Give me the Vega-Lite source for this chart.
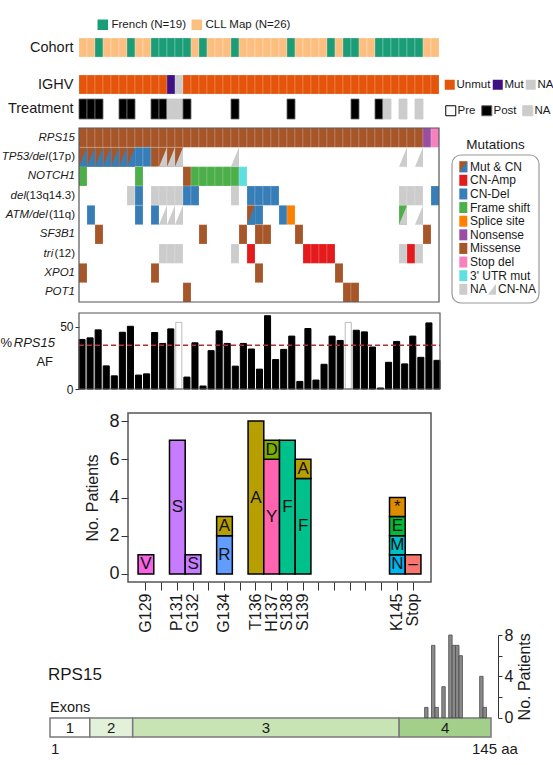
{
  "$schema": "https://vega.github.io/schema/vega-lite/v6.json",
  "width": 553,
  "height": 765,
  "autosize": "none",
  "padding": 0,
  "background": "white",
  "config": {
    "view": {"stroke": null},
    "font": "Liberation Sans",
    "text": {"font": "Liberation Sans"},
    "axis": {"labelFont": "Liberation Sans", "titleFont": "Liberation Sans", "labelColor": "#1a1a1a", "titleColor": "#1a1a1a", "tickColor": "#333333", "domainColor": "#333333", "titleFontWeight": "normal"},
    "legend": {"labelFont": "Liberation Sans", "labelColor": "#1a1a1a", "gridAlign": "none"}
  },
  "datasets": {
    "samples": [
      {"s":1,"cohort":"CLL Map","ighv":"Unmut","tx":"Post","af":39.9},
      {"s":2,"cohort":"CLL Map","ighv":"Unmut","tx":"Post","af":41.2},
      {"s":3,"cohort":"French","ighv":"Unmut","tx":"Post","af":47.6},
      {"s":4,"cohort":"CLL Map","ighv":"Unmut","tx":"Pre","af":18.6},
      {"s":5,"cohort":"CLL Map","ighv":"Unmut","tx":"Pre","af":10.6},
      {"s":6,"cohort":"CLL Map","ighv":"Unmut","tx":"Post","af":45.7},
      {"s":7,"cohort":"French","ighv":"Unmut","tx":"Post","af":50.5},
      {"s":8,"cohort":"CLL Map","ighv":"Unmut","tx":"Pre","af":11.2},
      {"s":9,"cohort":"CLL Map","ighv":"Unmut","tx":"Pre","af":12.2},
      {"s":10,"cohort":"French","ighv":"Unmut","tx":"Post","af":45.5},
      {"s":11,"cohort":"French","ighv":"Unmut","tx":"Post","af":36.7},
      {"s":12,"cohort":"French","ighv":"Mut","tx":"NA","af":48.4},
      {"s":13,"cohort":"French","ighv":"NA","tx":"NA","af":53.7,"afna":true},
      {"s":14,"cohort":"French","ighv":"Unmut","tx":"Post","af":9.6},
      {"s":15,"cohort":"CLL Map","ighv":"Unmut","tx":"Pre","af":37.2},
      {"s":16,"cohort":"French","ighv":"Unmut","tx":"Pre","af":2.4},
      {"s":17,"cohort":"CLL Map","ighv":"Unmut","tx":"Pre","af":30.9},
      {"s":18,"cohort":"CLL Map","ighv":"Unmut","tx":"Pre","af":46.8},
      {"s":19,"cohort":"CLL Map","ighv":"Unmut","tx":"Pre","af":36.7},
      {"s":20,"cohort":"French","ighv":"Unmut","tx":"Post","af":18.4},
      {"s":21,"cohort":"CLL Map","ighv":"Unmut","tx":"Pre","af":36.7},
      {"s":22,"cohort":"CLL Map","ighv":"Unmut","tx":"Pre","af":32.2},
      {"s":23,"cohort":"CLL Map","ighv":"Unmut","tx":"Pre","af":16.0},
      {"s":24,"cohort":"CLL Map","ighv":"Unmut","tx":"Pre","af":59.0},
      {"s":25,"cohort":"CLL Map","ighv":"Unmut","tx":"Pre","af":23.7},
      {"s":26,"cohort":"CLL Map","ighv":"Unmut","tx":"Pre","af":31.9},
      {"s":27,"cohort":"French","ighv":"Unmut","tx":"Post","af":42.6},
      {"s":28,"cohort":"CLL Map","ighv":"Unmut","tx":"Pre","af":6.1},
      {"s":29,"cohort":"CLL Map","ighv":"Unmut","tx":"Pre","af":48.7},
      {"s":30,"cohort":"CLL Map","ighv":"Unmut","tx":"Pre","af":7.2},
      {"s":31,"cohort":"CLL Map","ighv":"Unmut","tx":"Pre","af":19.9},
      {"s":32,"cohort":"French","ighv":"Unmut","tx":"Pre","af":42.6},
      {"s":33,"cohort":"CLL Map","ighv":"Unmut","tx":"Pre","af":39.1},
      {"s":34,"cohort":"French","ighv":"Unmut","tx":"Pre","af":53.7,"afna":true},
      {"s":35,"cohort":"French","ighv":"Unmut","tx":"Post","af":47.3},
      {"s":36,"cohort":"CLL Map","ighv":"Unmut","tx":"Pre","af":46.0},
      {"s":37,"cohort":"CLL Map","ighv":"Unmut","tx":"Pre","af":33.8},
      {"s":38,"cohort":"French","ighv":"Unmut","tx":"Post","af":0.8},
      {"s":39,"cohort":"French","ighv":"Unmut","tx":"NA","af":21.5},
      {"s":40,"cohort":"French","ighv":"Unmut","tx":"Pre","af":38.3},
      {"s":41,"cohort":"French","ighv":"Unmut","tx":"NA","af":20.2},
      {"s":42,"cohort":"French","ighv":"Unmut","tx":"Pre","af":42.6},
      {"s":43,"cohort":"French","ighv":"Unmut","tx":"NA","af":25.5},
      {"s":44,"cohort":"CLL Map","ighv":"Unmut","tx":"Pre","af":53.2},
      {"s":45,"cohort":"CLL Map","ighv":"Unmut","tx":"Pre","af":23.1}
    ],
    "cells": [
      {"s":1,"g":"RPS15","t":"Missense"},{"s":2,"g":"RPS15","t":"Missense"},{"s":3,"g":"RPS15","t":"Missense"},{"s":4,"g":"RPS15","t":"Missense"},{"s":5,"g":"RPS15","t":"Missense"},
      {"s":6,"g":"RPS15","t":"Missense"},{"s":7,"g":"RPS15","t":"Missense"},{"s":8,"g":"RPS15","t":"Missense"},{"s":9,"g":"RPS15","t":"Missense"},{"s":10,"g":"RPS15","t":"Missense"},
      {"s":11,"g":"RPS15","t":"Missense"},{"s":12,"g":"RPS15","t":"Missense"},{"s":13,"g":"RPS15","t":"Missense"},{"s":14,"g":"RPS15","t":"Missense"},{"s":15,"g":"RPS15","t":"Missense"},
      {"s":16,"g":"RPS15","t":"Missense"},{"s":17,"g":"RPS15","t":"Missense"},{"s":18,"g":"RPS15","t":"Missense"},{"s":19,"g":"RPS15","t":"Missense"},{"s":20,"g":"RPS15","t":"Missense"},
      {"s":21,"g":"RPS15","t":"Missense"},{"s":22,"g":"RPS15","t":"Missense"},{"s":23,"g":"RPS15","t":"Missense"},{"s":24,"g":"RPS15","t":"Missense"},{"s":25,"g":"RPS15","t":"Missense"},
      {"s":26,"g":"RPS15","t":"Missense"},{"s":27,"g":"RPS15","t":"Missense"},{"s":28,"g":"RPS15","t":"Missense"},{"s":29,"g":"RPS15","t":"Missense"},{"s":30,"g":"RPS15","t":"Missense"},
      {"s":31,"g":"RPS15","t":"Missense"},{"s":32,"g":"RPS15","t":"Missense"},{"s":33,"g":"RPS15","t":"Missense"},{"s":34,"g":"RPS15","t":"Missense"},{"s":35,"g":"RPS15","t":"Missense"},
      {"s":36,"g":"RPS15","t":"Missense"},{"s":37,"g":"RPS15","t":"Missense"},{"s":38,"g":"RPS15","t":"Missense"},{"s":39,"g":"RPS15","t":"Missense"},{"s":40,"g":"RPS15","t":"Missense"},
      {"s":41,"g":"RPS15","t":"Missense"},{"s":42,"g":"RPS15","t":"Missense"},{"s":43,"g":"RPS15","t":"Missense"},{"s":44,"g":"RPS15","t":"Nonsense"},{"s":45,"g":"RPS15","t":"Stop del"},
      {"s":1,"g":"TP53","t":"Missense","c":"CN-Del"},{"s":2,"g":"TP53","t":"Missense","c":"CN-Del"},{"s":3,"g":"TP53","t":"Missense","c":"CN-Del"},
      {"s":4,"g":"TP53","t":"Missense","c":"CN-Del"},{"s":5,"g":"TP53","t":"Missense","c":"CN-Del"},{"s":6,"g":"TP53","t":"Missense","c":"CN-Del"},
      {"s":7,"g":"TP53","t":"Missense","c":"CN-Del"},{"s":8,"g":"TP53","t":"CN-Del"},{"s":9,"g":"TP53","t":"CN-Del"},{"s":10,"g":"TP53","t":"Missense"},
      {"s":11,"g":"TP53","t":"Missense","c":"CN-NA"},{"s":12,"g":"TP53","t":"Missense","c":"CN-NA"},{"s":13,"g":"TP53","t":"Missense","c":"CN-NA"},
      {"s":20,"g":"TP53","c":"CN-NA"},{"s":41,"g":"TP53","c":"CN-NA"},{"s":43,"g":"TP53","c":"CN-NA"},
      {"s":1,"g":"NOTCH1","t":"Frame shift"},{"s":8,"g":"NOTCH1","t":"Frame shift"},{"s":14,"g":"NOTCH1","t":"Missense"},
      {"s":15,"g":"NOTCH1","t":"Frame shift"},{"s":16,"g":"NOTCH1","t":"Frame shift"},{"s":17,"g":"NOTCH1","t":"Frame shift"},
      {"s":18,"g":"NOTCH1","t":"Frame shift"},{"s":19,"g":"NOTCH1","t":"Frame shift"},{"s":20,"g":"NOTCH1","t":"Frame shift"},
      {"s":21,"g":"NOTCH1","t":"3' UTR mut"},
      {"s":7,"g":"del13q","t":"NA"},{"s":8,"g":"del13q","t":"CN-Del"},{"s":10,"g":"del13q","t":"NA"},{"s":11,"g":"del13q","t":"NA"},
      {"s":12,"g":"del13q","t":"NA"},{"s":13,"g":"del13q","t":"NA"},{"s":14,"g":"del13q","t":"CN-Del"},{"s":15,"g":"del13q","t":"CN-Del"},
      {"s":20,"g":"del13q","t":"NA"},{"s":22,"g":"del13q","t":"CN-Del"},{"s":23,"g":"del13q","t":"CN-Del"},{"s":24,"g":"del13q","t":"CN-Del"},
      {"s":25,"g":"del13q","t":"CN-Del"},{"s":41,"g":"del13q","t":"NA"},{"s":42,"g":"del13q","t":"NA"},{"s":43,"g":"del13q","t":"NA"},
      {"s":45,"g":"del13q","t":"CN-Del"},
      {"s":2,"g":"ATM","t":"CN-Del"},{"s":8,"g":"ATM","t":"CN-Del"},{"s":10,"g":"ATM","t":"CN-Del"},
      {"s":11,"g":"ATM","c":"CN-NA"},{"s":12,"g":"ATM","c":"CN-NA"},{"s":13,"g":"ATM","c":"CN-NA"},
      {"s":22,"g":"ATM","t":"Missense","c":"CN-Del"},{"s":23,"g":"ATM","t":"CN-Del"},{"s":26,"g":"ATM","t":"CN-Del"},
      {"s":27,"g":"ATM","t":"Splice site"},{"s":41,"g":"ATM","t":"Frame shift","c":"CN-NA"},{"s":43,"g":"ATM","c":"CN-NA"},
      {"s":3,"g":"SF3B1","t":"Missense"},{"s":16,"g":"SF3B1","t":"Missense"},{"s":21,"g":"SF3B1","t":"Missense"},{"s":23,"g":"SF3B1","t":"Missense"},
      {"s":24,"g":"SF3B1","t":"Missense"},{"s":28,"g":"SF3B1","t":"Missense"},{"s":44,"g":"SF3B1","t":"Missense"},
      {"s":11,"g":"tri12","t":"NA"},{"s":12,"g":"tri12","t":"NA"},{"s":13,"g":"tri12","t":"NA"},{"s":20,"g":"tri12","t":"NA"},
      {"s":22,"g":"tri12","t":"CN-Amp"},{"s":29,"g":"tri12","t":"CN-Amp"},{"s":30,"g":"tri12","t":"CN-Amp"},{"s":31,"g":"tri12","t":"CN-Amp"},
      {"s":32,"g":"tri12","t":"CN-Amp"},{"s":41,"g":"tri12","t":"NA"},{"s":42,"g":"tri12","t":"CN-Amp"},{"s":43,"g":"tri12","t":"NA"},
      {"s":1,"g":"XPO1","t":"Missense"},{"s":10,"g":"XPO1","t":"Missense"},{"s":23,"g":"XPO1","t":"Missense"},{"s":33,"g":"XPO1","t":"Missense"},
      {"s":14,"g":"POT1","t":"Missense"},{"s":34,"g":"POT1","t":"Missense"},{"s":35,"g":"POT1","t":"Missense"}
    ],
    "sites": [
      {"p":"129","aa":"V","lo":0,"hi":1},
      {"p":"131","aa":"S","lo":0,"hi":7},
      {"p":"132","aa":"S","lo":0,"hi":1},
      {"p":"134","aa":"R","lo":0,"hi":2},
      {"p":"134","aa":"A","lo":2,"hi":3},
      {"p":"136","aa":"A","lo":0,"hi":8},
      {"p":"137","aa":"Y","lo":0,"hi":6},
      {"p":"137","aa":"D","lo":6,"hi":7},
      {"p":"138","aa":"F","lo":0,"hi":7},
      {"p":"139","aa":"F","lo":0,"hi":5},
      {"p":"139","aa":"A","lo":5,"hi":6},
      {"p":"145","aa":"N","lo":0,"hi":1},
      {"p":"145","aa":"M","lo":1,"hi":2},
      {"p":"145","aa":"E","lo":2,"hi":3},
      {"p":"145","aa":"*","lo":3,"hi":4},
      {"p":"146","aa":"–","lo":0,"hi":1}
    ],
    "exons": [
      {"exon":"1","start":1,"end":14},
      {"exon":"2","start":14,"end":28},
      {"exon":"3","start":28,"end":115},
      {"exon":"4","start":115,"end":145}
    ]
  },
  "layer": [
    {
      "data": {"name": "samples"},
      "mark": {"type": "rect", "stroke": "#ffffff", "strokeWidth": 0.6, "strokeOpacity": 0.4},
      "encoding": {
        "x": {"field": "s", "type": "ordinal", "scale": {"range": [79, 439], "paddingInner": 0, "paddingOuter": 0}, "axis": null},
        "y": {"datum": "Cohort", "type": "nominal", "scale": {"range": [38, 57], "paddingInner": 0, "paddingOuter": 0},
              "axis": {"orient": "left", "offset": -79, "title": null, "domain": false, "ticks": false, "labelPadding": 6, "labelFontSize": 14.5}},
        "color": {"field": "cohort", "type": "nominal",
                  "scale": {"domain": ["French", "CLL Map"], "range": ["#1b9e77", "#fdbf80"]},
                  "legend": {"orient": "none", "legendX": 97, "legendY": 19, "direction": "horizontal", "title": null, "symbolType": "square", "symbolSize": 110, "symbolStrokeWidth": 0, "labelFontSize": 11.5, "labelExpr": "datum.label == 'French' ? 'French (N=19)' : 'CLL Map (N=26)'", "columnPadding": 5, "labelOffset": 3, "padding": 0}}
      }
    },
    {
      "data": {"name": "samples"},
      "mark": {"type": "rect", "stroke": "#ffffff", "strokeWidth": 0.6, "strokeOpacity": 0.3},
      "encoding": {
        "x": {"field": "s", "type": "ordinal", "scale": {"range": [79, 439], "paddingInner": 0, "paddingOuter": 0}, "axis": null},
        "y": {"datum": "IGHV", "type": "nominal", "scale": {"range": [75, 94], "paddingInner": 0, "paddingOuter": 0},
              "axis": {"orient": "left", "offset": -79, "title": null, "domain": false, "ticks": false, "labelPadding": 6, "labelFontSize": 14.5}},
        "color": {"field": "ighv", "type": "nominal",
                  "scale": {"domain": ["Unmut", "Mut", "NA"], "range": ["#e4540a", "#3f1187", "#cccccc"]},
                  "legend": {"orient": "none", "legendX": 444, "legendY": 79, "direction": "horizontal", "title": null, "symbolType": "square", "symbolSize": 100, "symbolStrokeWidth": 0, "labelFontSize": 11.5, "columnPadding": 1, "labelOffset": 1, "padding": 0}}
      }
    },
    {
      "data": {"name": "samples"},
      "transform": [{"filter": "datum.tx != 'Pre'"}],
      "mark": {"type": "rect", "strokeWidth": 0.8},
      "encoding": {
        "x": {"field": "s", "type": "ordinal", "scale": {"domain": [1,2,3,4,5,6,7,8,9,10,11,12,13,14,15,16,17,18,19,20,21,22,23,24,25,26,27,28,29,30,31,32,33,34,35,36,37,38,39,40,41,42,43,44,45], "range": [79, 439], "paddingInner": 0, "paddingOuter": 0}, "axis": null},
        "y": {"datum": "Treatment", "type": "nominal", "scale": {"range": [99, 119], "paddingInner": 0, "paddingOuter": 0},
              "axis": {"orient": "left", "offset": -79, "title": null, "domain": false, "ticks": false, "labelPadding": 6, "labelFontSize": 14.5}},
        "color": {"field": "tx", "type": "nominal",
                  "scale": {"domain": ["Pre", "Post", "NA"], "range": ["#ffffff", "#000000", "#cccccc"]},
                  "legend": {"orient": "none", "legendX": 445, "legendY": 105, "direction": "horizontal", "title": null, "symbolType": "square", "symbolSize": 100, "symbolStrokeWidth": 1, "labelFontSize": 11.5, "columnPadding": 3, "labelOffset": 1, "padding": 0}},
        "stroke": {"field": "tx", "type": "nominal",
                  "scale": {"domain": ["Pre", "Post", "NA"], "range": ["#000000", "#666666", "#cccccc"]},
                  "legend": {"orient": "none", "legendX": 445, "legendY": 105, "direction": "horizontal", "title": null, "symbolType": "square", "symbolSize": 100, "symbolStrokeWidth": 1, "labelFontSize": 11.5, "columnPadding": 3, "labelOffset": 1, "padding": 0}}
      }
    },
    {
      "data": {"name": "cells"},
      "layer": [
        {
          "transform": [{"filter": "datum.t"}],
          "mark": {"type": "rect", "stroke": "#ffffff", "strokeWidth": 0.5, "strokeOpacity": 0.35},
          "encoding": {
            "x": {"field": "s", "type": "ordinal", "scale": {"domain": [1,2,3,4,5,6,7,8,9,10,11,12,13,14,15,16,17,18,19,20,21,22,23,24,25,26,27,28,29,30,31,32,33,34,35,36,37,38,39,40,41,42,43,44,45], "range": [79, 439], "paddingInner": 0, "paddingOuter": 0}, "axis": null},
            "y": {"field": "g", "type": "nominal", "scale": {"domain": ["RPS15", "TP53", "NOTCH1", "del13q", "ATM", "SF3B1", "tri12", "XPO1", "POT1"], "range": [128, 302], "paddingInner": 0, "paddingOuter": 0}, "axis": null},
            "color": {"field": "t", "type": "nominal",
                      "scale": {"domain": ["Missense", "CN-Amp", "CN-Del", "Frame shift", "Splice site", "Nonsense", "Stop del", "3' UTR mut", "NA", "CN-NA"],
                                "range": ["#a65628", "#e41a1c", "#377eb8", "#4daf4a", "#ff7f00", "#984ea3", "#f781bf", "#5fe0e0", "#cccccc", "#cccccc"]},
                      "legend": null}
          }
        },
        {
          "transform": [{"filter": "datum.c"}],
          "mark": {"type": "point", "shape": "M0.414,-1L0.414,1L-0.414,1Z", "size": 374, "filled": true, "opacity": 1, "strokeWidth": 0},
          "encoding": {
            "x": {"field": "s", "type": "ordinal"},
            "y": {"field": "g", "type": "nominal"},
            "color": {"field": "c", "type": "nominal"}
          }
        },
        {
          "data": {"values": [
            {"g":"RPS15","it":"RPS15","rm":""},{"g":"TP53","it":"TP53/del","rm":"(17p)"},{"g":"NOTCH1","it":"NOTCH1","rm":""},
            {"g":"del13q","it":"del","rm":"(13q14.3)"},{"g":"ATM","it":"ATM/del","rm":"(11q)"},{"g":"SF3B1","it":"SF3B1","rm":""},
            {"g":"tri12","it":"tri","rm":"(12)"},{"g":"XPO1","it":"XPO1","rm":""},{"g":"POT1","it":"POT1","rm":""}
          ]},
          "transform": [{"calculate": "length(datum.rm) * 5.45", "as": "w"}],
          "layer": [
            {
              "mark": {"type": "text", "align": "right", "baseline": "middle", "fontSize": 11.5, "fontStyle": "italic", "color": "#1a1a1a", "dx": {"expr": "-4 - datum.w"}},
              "encoding": {"x": {"datum": 1, "type": "ordinal", "bandPosition": 0}, "y": {"field": "g", "type": "nominal"}, "text": {"field": "it"}}
            },
            {
              "transform": [{"filter": "datum.rm != ''"}],
              "mark": {"type": "text", "align": "right", "baseline": "middle", "fontSize": 11.5, "color": "#1a1a1a", "dx": -4},
              "encoding": {"x": {"datum": 1, "type": "ordinal", "bandPosition": 0}, "y": {"field": "g", "type": "nominal"}, "text": {"field": "rm"}}
            }
          ]
        }
      ]
    },
    {
      "data": {"values": [{}]},
      "mark": {"type": "rect", "fillOpacity": 0, "stroke": "#555555", "strokeWidth": 1.2},
      "encoding": {
        "x": {"datum": 0, "type": "quantitative", "scale": {"domain": [0, 1], "range": [79, 439], "nice": false, "zero": false}, "axis": null},
        "x2": {"datum": 1},
        "y": {"datum": 0, "type": "quantitative", "scale": {"domain": [0, 1], "range": [302, 128], "nice": false, "zero": false}, "axis": null},
        "y2": {"datum": 1}
      }
    },
    {
      "data": {"values": [{}]},
      "layer": [
        {
          "mark": {"type": "rect", "fill": "#ffffff", "stroke": "#999999", "strokeWidth": 1.2, "cornerRadius": 9},
          "encoding": {
            "x": {"datum": 0, "type": "quantitative", "scale": {"domain": [0, 1], "range": [452, 539], "nice": false, "zero": false}, "axis": null},
            "x2": {"datum": 1},
            "y": {"datum": 0, "type": "quantitative", "scale": {"domain": [0, 1], "range": [303, 155], "nice": false, "zero": false}, "axis": null},
            "y2": {"datum": 1}
          }
        },
        {
          "mark": {"type": "text", "text": "Mutations", "fontSize": 13.5, "color": "#1a1a1a", "dy": -10, "baseline": "middle"},
          "encoding": {"x": {"datum": 0.5}, "y": {"datum": 1}}
        }
      ]
    },
    {
      "data": {"values": [
        {"item":"Mut & CN"},{"item":"CN-Amp"},{"item":"CN-Del"},{"item":"Frame shift"},{"item":"Splice site"},
        {"item":"Nonsense"},{"item":"Missense"},{"item":"Stop del"},{"item":"3' UTR mut"},{"item":"NA"}
      ]},
      "encoding": {
        "y": {"field": "item", "type": "nominal", "scale": {"type": "point", "domain": ["Mut & CN", "CN-Amp", "CN-Del", "Frame shift", "Splice site", "Nonsense", "Missense", "Stop del", "3' UTR mut", "NA"], "range": [166.7, 289.3], "padding": 0}, "axis": null}
      },
      "layer": [
        {
          "mark": {"type": "point", "shape": "M-0.727,-1L0.727,-1L0.727,1L-0.727,1Z", "size": 121, "filled": true, "opacity": 1, "strokeWidth": 0},
          "encoding": {
            "x": {"datum": 0.13, "type": "quantitative", "scale": {"domain": [0, 1], "range": [452, 539], "nice": false, "zero": false}, "axis": null},
            "color": {"field": "item", "type": "nominal",
                      "scale": {"domain": ["Mut & CN", "CN-Amp", "CN-Del", "Frame shift", "Splice site", "Nonsense", "Missense", "Stop del", "3' UTR mut", "NA", "CN-NA"],
                                "range": ["#a65628", "#e41a1c", "#377eb8", "#4daf4a", "#ff7f00", "#984ea3", "#a65628", "#f781bf", "#5fe0e0", "#cccccc", "#cccccc"]},
                      "legend": null}
          }
        },
        {
          "transform": [{"filter": "datum.item == 'Mut & CN'"}],
          "mark": {"type": "point", "shape": "M0.727,-1L0.727,1L-0.727,1Z", "size": 121, "filled": true, "opacity": 1, "strokeWidth": 0, "color": "#377eb8"},
          "encoding": {"x": {"datum": 0.13}}
        },
        {
          "transform": [{"filter": "datum.item == 'NA'"}],
          "mark": {"type": "point", "shape": "M0.727,-1L0.727,1L-0.727,1Z", "size": 121, "filled": true, "opacity": 1, "strokeWidth": 0, "color": "#cccccc"},
          "encoding": {"x": {"datum": 0.46}}
        },
        {
          "mark": {"type": "text", "align": "left", "baseline": "middle", "fontSize": 12, "color": "#1a1a1a"},
          "encoding": {"x": {"datum": 0.207}, "text": {"field": "item"}}
        },
        {
          "transform": [{"filter": "datum.item == 'NA'"}],
          "mark": {"type": "text", "align": "left", "baseline": "middle", "fontSize": 12, "color": "#1a1a1a", "text": "CN-NA"},
          "encoding": {"x": {"datum": 0.529}}
        }
      ]
    },
    {
      "data": {"name": "samples"},
      "mark": {"type": "bar", "strokeWidth": 1},
      "encoding": {
        "x": {"field": "s", "type": "ordinal", "scale": {"range": [79, 440], "paddingInner": 0.25, "paddingOuter": 0}, "axis": null},
        "y": {"field": "af", "type": "quantitative", "scale": {"domain": [0, 61.2], "range": [389, 313], "nice": false, "zero": false},
              "axis": {"orient": "left", "offset": -79, "values": [0, 50], "title": null, "domain": false, "tickSize": 4, "labelFontSize": 12, "labelPadding": 2}},
        "fill": {"condition": {"test": "datum.afna", "value": "#ffffff"}, "value": "#000000"},
        "stroke": {"condition": {"test": "datum.afna", "value": "#bbbbbb"}, "value": "#000000"}
      }
    },
    {
      "data": {"values": [{}]},
      "encoding": {
        "x": {"datum": 0, "type": "quantitative", "scale": {"domain": [0, 1], "range": [79, 440], "nice": false, "zero": false}, "axis": null},
        "y": {"datum": 0, "type": "quantitative", "scale": {"domain": [0, 61.2], "range": [389, 313], "nice": false, "zero": false}, "axis": null}
      },
      "layer": [
        {
          "mark": {"type": "rect", "fillOpacity": 0, "stroke": "#555555", "strokeWidth": 1.2},
          "encoding": {"x2": {"datum": 1}, "y2": {"datum": 61.2}}
        },
        {
          "mark": {"type": "rule", "color": "#b03030", "strokeDash": [5, 3], "strokeWidth": 1.5},
          "encoding": {"x2": {"datum": 1}, "y": {"datum": 35.3}}
        },
        {
          "mark": {"type": "text", "text": "RPS15", "align": "right", "baseline": "middle", "fontSize": 13, "fontStyle": "italic", "color": "#1a1a1a", "dx": -24, "dy": -46},
          "encoding": {}
        },
        {
          "mark": {"type": "text", "text": "%", "align": "right", "baseline": "middle", "fontSize": 13, "color": "#1a1a1a", "dx": -67, "dy": -46},
          "encoding": {}
        },
        {
          "mark": {"type": "text", "text": "AF", "align": "right", "baseline": "middle", "fontSize": 13, "color": "#1a1a1a", "dx": -26, "dy": -27},
          "encoding": {}
        }
      ]
    },
    {
      "data": {"name": "sites"},
      "transform": [{"calculate": "(datum.lo + datum.hi) / 2", "as": "mid"}],
      "layer": [
        {
          "mark": {"type": "rect", "stroke": "#000000", "strokeWidth": 1.5},
          "encoding": {
            "x": {"field": "p", "type": "ordinal",
                  "scale": {"domain": ["129","130","131","132","133","134","135","136","137","138","139","140","141","142","143","144","145","146"], "range": [128, 431], "paddingInner": 0, "paddingOuter": 0.64},
                  "axis": {"orient": "bottom", "offset": -183, "title": null, "domain": false, "tickSize": 8, "labelAngle": -90, "labelFontSize": 16, "labelPadding": 3,
                           "labelExpr": "datum.value == '129' ? 'G129' : datum.value == '131' ? 'P131' : datum.value == '132' ? 'G132' : datum.value == '134' ? 'G134' : datum.value == '136' ? 'T136' : datum.value == '137' ? 'H137' : datum.value == '138' ? 'S138' : datum.value == '139' ? 'S139' : datum.value == '145' ? 'K145' : datum.value == '146' ? 'Stop' : ''"}},
            "y": {"field": "lo", "type": "quantitative", "scale": {"domain": [-0.42, 8.42], "range": [582, 413], "nice": false, "zero": false},
                  "axis": {"orient": "left", "offset": -128, "values": [0, 2, 4, 6, 8], "format": "d", "title": "No. Patients", "titleFontSize": 16, "titlePadding": 8, "domain": false, "tickSize": 7, "labelFontSize": 18, "labelPadding": 2}},
            "y2": {"field": "hi"},
            "color": {"field": "aa", "type": "nominal",
                      "scale": {"domain": ["–", "*", "A", "D", "E", "F", "M", "N", "R", "S", "V", "Y"],
                                "range": ["#F8766D", "#DE8C00", "#B79F00", "#7CAE00", "#00BA38", "#00C08B", "#00BFC4", "#00B4F0", "#619CFF", "#C77CFF", "#F564E3", "#FF64B0"]},
                      "legend": null}
          }
        },
        {
          "mark": {"type": "text", "fontSize": 17, "color": "#111111", "baseline": "middle"},
          "encoding": {
            "x": {"field": "p", "type": "ordinal"},
            "y": {"field": "mid", "type": "quantitative"},
            "text": {"field": "aa"}
          }
        }
      ]
    },
    {
      "data": {"values": [{}]},
      "mark": {"type": "rect", "fillOpacity": 0, "stroke": "#555555", "strokeWidth": 1.5},
      "encoding": {
        "x": {"datum": 0, "type": "quantitative", "scale": {"domain": [0, 1], "range": [128, 431], "nice": false, "zero": false}, "axis": null},
        "x2": {"datum": 1},
        "y": {"datum": 0, "type": "quantitative", "scale": {"domain": [0, 1], "range": [582, 413], "nice": false, "zero": false}, "axis": null},
        "y2": {"datum": 1}
      }
    },
    {
      "data": {"name": "exons"},
      "transform": [{"calculate": "(datum.start + datum.end) / 2", "as": "mid"}],
      "encoding": {
        "x": {"field": "start", "type": "quantitative", "scale": {"domain": [1, 145], "range": [50, 491], "nice": false, "zero": false}, "axis": null},
        "y": {"datum": 0, "type": "quantitative", "scale": {"domain": [0, 1], "range": [737, 718], "nice": false, "zero": false}, "axis": null}
      },
      "layer": [
        {
          "mark": {"type": "rect", "stroke": "#7a7a7a", "strokeWidth": 1.5},
          "encoding": {
            "x2": {"field": "end"},
            "y2": {"datum": 1},
            "fill": {"field": "exon", "type": "nominal", "scale": {"domain": ["1", "2", "3", "4"], "range": ["#ffffff", "#e4f1da", "#c8e3b4", "#a2cf89"]}, "legend": null}
          }
        },
        {
          "mark": {"type": "text", "fontSize": 15, "color": "#1a1a1a", "baseline": "middle"},
          "encoding": {"x": {"field": "mid", "type": "quantitative"}, "y": {"datum": 0.5}, "text": {"field": "exon"}}
        }
      ]
    },
    {
      "data": {"values": [{}]},
      "encoding": {
        "x": {"datum": 1, "type": "quantitative", "scale": {"domain": [1, 145], "range": [50, 491], "nice": false, "zero": false}, "axis": null},
        "y": {"datum": 0, "type": "quantitative", "scale": {"domain": [0, 1], "range": [737, 718], "nice": false, "zero": false}, "axis": null}
      },
      "layer": [
        {"mark": {"type": "text", "text": "1", "align": "left", "baseline": "middle", "fontSize": 15, "color": "#1a1a1a", "dx": 1, "dy": 12}, "encoding": {}},
        {"mark": {"type": "text", "text": "145 aa", "align": "left", "baseline": "middle", "fontSize": 15, "color": "#1a1a1a", "dx": -19, "dy": 12}, "encoding": {"x": {"datum": 145}}},
        {"mark": {"type": "text", "text": "Exons", "align": "left", "baseline": "middle", "fontSize": 14.5, "color": "#1a1a1a", "dx": 0, "dy": -10}, "encoding": {"y": {"datum": 1}}},
        {"mark": {"type": "text", "text": "RPS15", "align": "left", "baseline": "middle", "fontSize": 17, "color": "#1a1a1a", "dx": -2, "dy": -43}, "encoding": {"y": {"datum": 1}}}
      ]
    },
    {
      "data": {"name": "sites"},
      "transform": [
        {"calculate": "datum.hi - datum.lo", "as": "n"},
        {"aggregate": [{"op": "sum", "field": "n", "as": "total"}], "groupby": ["p"]},
        {"calculate": "toNumber(datum.p) - 0.5", "as": "a0"},
        {"calculate": "toNumber(datum.p) + 0.5", "as": "a1"}
      ],
      "mark": {"type": "rect", "fill": "#8a8a8a", "stroke": "#4a4a4a", "strokeWidth": 0.8},
      "encoding": {
        "x": {"field": "a0", "type": "quantitative", "scale": {"domain": [19.6, 147.8], "range": [50, 491], "nice": false, "zero": false}, "axis": null},
        "x2": {"field": "a1"},
        "y": {"field": "total", "type": "quantitative", "scale": {"domain": [0, 8], "range": [717.7, 635], "nice": false, "zero": false},
              "axis": {"orient": "right", "offset": -55, "values": [0, 2, 4, 6, 8], "labelExpr": "datum.value % 4 == 0 ? datum.label : ''", "title": "No. Patients", "titleAngle": 270, "titleBaseline": "top", "titleFontSize": 16, "titlePadding": 4, "tickSize": 4, "labelFontSize": 16, "labelPadding": 2}},
        "y2": {"datum": 0}
      }
    }
  ],
  "resolve": {
    "scale": {"x": "independent", "y": "independent", "color": "independent", "fill": "independent", "stroke": "independent", "shape": "independent", "size": "independent", "opacity": "independent"}
  }
}
